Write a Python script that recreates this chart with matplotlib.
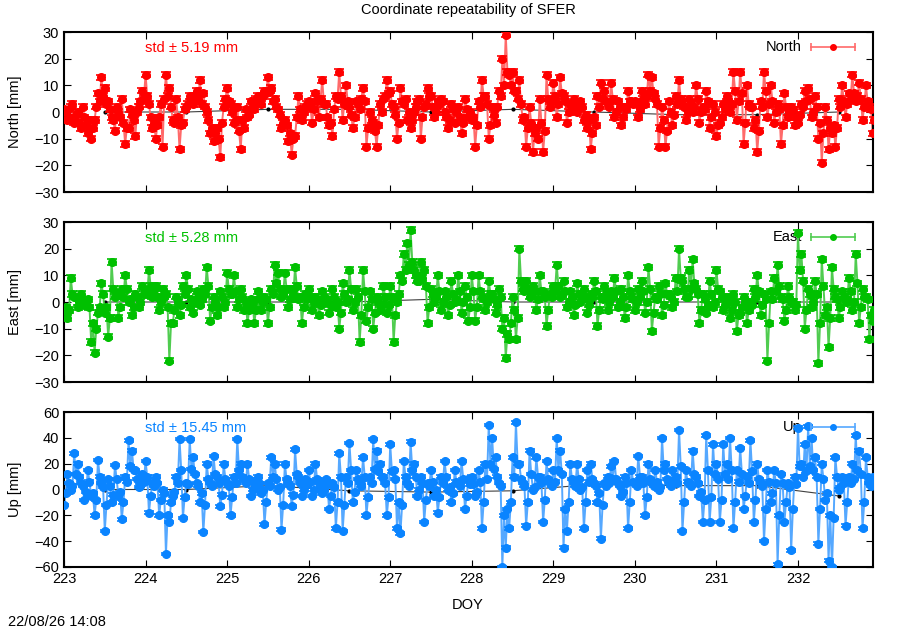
import numpy as np
import matplotlib
matplotlib.use("Agg")
import matplotlib.pyplot as plt

# data (samples, mm) -------------------------------------------------------------
# hourly points, plus the points in between (half hour later) that fill the band

doy_start = 223.0
step = 1.0 / 24.0

north = [
    1, -3, 2, -4, 0, -6, -2, -8, -10, -3, 7, 13, 9, 4, -2, -7, 0, 5, -12, -6, -1, -9, 2, 8,
    14, 3, -6, -10, -2, -13, 14, 9, -3, 5, -14, -4, 2, 6, 3, 8, 12, 7, 0, -8, -11, -6, -17, 2,
    9, 3, -4, 2, -14, -6, -2, 4, 1, 6, 3, 8, 13, 9, 5, 1, -6, -3, -11, -16, -9, 6, -3, 2,
    4, -4, 7, -2, 12, 3, -5, -9, 6, 15, -3, 10, 2, -6, 4, 1, 9, -13, 0, -4, -13, 3, 5, 12,
    8, 2, -10, 9, 3, -3, -6, 0, 4, -10, 2, 9, 6, -2, 4, 5, 0, -6, 3, -4, 2, -8, 5, -2,
    -3, -13, 4, 12, 6, -10, 2, -4, 8, 20, 29, 14, 15, 8, 12, -3, -13, 2, -15, -6, 5, -15, 14, 2,
    11, -2, 13, 6, -4, 3, 5, 0, 4, -3, -6, -14, -2, 6, 11, 8, 3, 11, -2, 4, -5, 2, 8, 4,
    4, -2, 8, 3, 14, 13, 5, -13, 2, -13, 4, -5, 6, 12, 3, -3, 5, 0, 10, -4, 2, 8, -6, 3,
    -9, -4, 3, 6, 0, 15, -3, 15, -12, 10, 2, -6, -15, 4, 15, -2, 10, -4, 3, -12, 7, -2, 2, -5,
    -4, 3, 8, 9, -2, 6, -10, -19, 2, -14, -8, -13, 5, 10, -2, 7, 14, 4, 11, -3, 10, 2, -8,
]
north_half = [
    0, -2, 3, -1, -4, 2, -5, -3, -6, 2, 4, 6, 3, 1, -3, 2, -2, -4, -6, 1, -3, 0, 4, 5,
    6, -2, -4, -5, 3, 5, 6, 2, -4, -2, -5, 1, 3, 4, 6, 5, 3, 2, -3, -6, -8, -10, -4, 5,
    4, 0, -3, -7, -3, 1, -1, 3, 5, 4, 6, 7, 8, 4, 2, -1, -4, -5, -8, -10, -2, 1, 0, 3,
    2, 1, 4, 5, 3, -2, -4, 1, 5, 6, 3, 4, -1, -2, 3, 5, 4, -6, -3, -7, -5, 0, 6, 7,
    3, -1, -4, 4, 5, 0, -3, 2, 5, -2, 3, 6, 2, 0, 3, 4, -2, -3, 1, 0, -2, -4, 1, 0,
    -2, -5, 2, 6, 3, -5, -1, 2, 6, 10, 15, 10, 8, 5, 3, -2, -6, -4, -8, -10, -4, -7, 5, 4,
    6, 3, 7, 4, 0, 1, 3, 2, 2, -1, -3, -8, -5, 2, 5, 4, 2, 5, 0, 2, -2, 1, 4, 3,
    3, 1, 5, 6, 8, 7, 3, -6, -3, -7, 0, -1, 3, 5, 2, 0, 3, 2, 5, 0, 1, 4, -2, 0,
    -5, -2, 1, 4, 3, 8, 4, 7, -4, 3, 2, -3, -7, 2, 8, 3, 4, 0, 1, -5, 2, 0, 1, -2,
    -1, 2, 4, 5, 0, 2, -4, -8, -3, -6, -5, -6, 2, 4, 3, 5, 7, 6, 5, 2, 4, 1, -3,
]

east = [
    -3, -6, 9, 2, -2, 3, -1, 1, -15, -19, -4, 7, -4, -13, 15, 2, -6, 5, 10, 0, -5, 3, -2, 6,
    4, 12, 2, 6, -3, 5, 3, -22, -8, 2, -5, 6, 10, -2, -4, 4, -1, 5, 13, -7, 2, -5, 4, -2,
    11, 3, 10, -2, 5, -3, -8, 1, -8, 4, -3, 2, -8, 5, 14, 11, 2, 11, -2, 5, 13, 1, -8, 3,
    5, -3, 2, -5, 4, 0, -4, 5, -2, -10, 7, 0, 12, -3, 5, -15, 12, -7, 4, -10, 2, -3, 6, -4,
    6, -15, 0, 10, 18, 22, 27, 12, 8, 15, 12, -8, 5, 0, 10, -3, 4, -5, 8, 0, 10, -4, 6, -7,
    10, -7, 10, 2, -3, 8, 3, -4, 5, -10, -21, -14, 2, -14, 20, 5, 8, 2, 6, -3, 10, 4, -9, 3,
    6, 14, 2, 8, -2, 4, -5, 7, 0, 5, -4, 3, 8, -9, 2, 6, -3, 4, 9, -2, 5, -6, 10, 2,
    -3, 5, 8, -4, 13, -11, 2, 6, -5, 7, 3, -2, 9, 20, 8, 2, 12, 16, 5, -8, 3, -4, 8, -2,
    12, 4, -3, 2, -6, 3, -11, -4, 2, -8, 0, 5, 10, -5, 3, -22, 4, 9, 14, 2, -7, 6, 0, -3,
    26, 18, -10, 5, -2, 8, -23, 16, -5, -17, 13, 2, -6, 4, 0, 9, -3, 18, -8, 5, 2, -14, -7,
]
east_half = [
    -2, -3, 3, 2, 0, 1, 0, -2, -8, -10, -2, 3, -2, -6, 5, 3, -2, 2, 5, 1, -2, 2, 0, 3,
    3, 6, 3, 2, 0, 2, -2, -8, -3, 0, -1, 3, 5, 1, 0, 2, 1, 3, 6, -2, 0, -2, 2, 0,
    5, 3, 4, 1, 2, 0, -3, 0, -3, 1, 0, 1, -2, 3, 7, 5, 3, 5, 1, 3, 6, 2, -2, 1,
    2, 0, 1, -1, 2, 1, -1, 2, 0, -4, 3, 1, 5, 0, 2, -5, 4, -2, 1, -4, 0, -1, 2, -1,
    2, -5, 3, 8, 12, 14, 15, 10, 8, 9, 6, -2, 3, 2, 4, 0, 2, -1, 3, 1, 4, 0, 2, -2,
    4, -2, 4, 1, 0, 3, 1, -1, 2, -6, -12, -8, -3, -6, 8, 4, 5, 3, 4, 1, 4, 2, -3, 2,
    4, 6, 3, 4, 0, 2, -1, 3, 1, 2, -1, 2, 4, -3, 1, 3, 0, 2, 4, 0, 2, -2, 4, 1,
    0, 2, 4, 0, 5, -4, 1, 3, -1, 3, 2, 0, 4, 9, 5, 2, 5, 7, 3, -3, 1, -1, 3, 0,
    5, 2, -1, 0, -3, 0, -5, -2, 0, -3, -1, 2, 4, -1, 1, -8, 1, 4, 6, 1, -3, 2, 0, -1,
    12, 8, -3, 3, 0, 3, -8, 6, -2, -6, 5, 1, -2, 2, 1, 4, 0, 7, -2, 2, 1, -5, -3,
]

up = [
    -12, 12, 0, 28, 20, 5, -8, 15, -5, -20, 23, 5, -32, 8, -10, 19, -5, -23, 10, 38, 30, 15, 2, 12,
    22, -18, 5, 10, -20, 0, -50, -25, -5, 10, 39, -22, 5, 39, 25, 5, -10, -33, 20, 5, 26, 10, -13, 20,
    5, -20, 10, 39, 20, 8, 20, -5, 5, 10, -3, -27, 5, 25, 20, 0, -31, 20, 5, -13, 31, 10, -5, 8,
    15, -5, 20, 5, -3, 8, -15, 5, -30, 28, -32, 10, 36, -10, 15, 5, 25, -20, 10, 39, 30, 20, 10, -20,
    35, 15, -30, -34, 22, 5, 37, 20, -5, 10, -25, 5, 15, -5, -18, 10, 22, 0, -10, 15, 5, 22, -15, 8,
    10, -5, 15, -30, 20, 50, 40, 25, 5, -60, -45, -30, 25, 52, 20, 5, -28, 30, 0, 25, 10, -25, 22, 5,
    15, 40, 30, -45, -32, 20, 5, 20, 0, -30, 15, 20, 5, -10, -38, 5, 10, 18, 22, 5, -5, 10, -30, 15,
    5, 26, 10, -20, 20, 5, 15, 0, 40, 20, 5, 15, 10, 46, -32, 15, 5, 30, 10, -5, -25, 42, -25, 35,
    20, -25, 35, 20, 40, -30, 15, 32, -15, 10, 38, -25, 20, 5, -40, 15, -10, 15, -58, 12, -25, 5, -47, 10,
    48, 20, 35, 49, 40, 25, -42, 20, -8, -55, -60, 25, 0, 10, -28, 10, 20, 42, 30, -30, 25, 5, 10,
]
up_half = [
    -3, 5, 3, 12, 10, 3, -2, 6, -3, -8, 10, 2, -12, 3, -4, 8, -2, -10, 6, 18, 15, 8, 3, 6,
    10, -5, 3, 5, -8, -3, -20, -10, -2, 5, 15, -6, 4, 16, 12, 3, -3, -12, 8, 3, 12, 5, -4, 8,
    3, -6, 5, 15, 10, 5, 8, 0, 3, 5, 0, -10, 3, 10, 8, 2, -12, 8, 3, -4, 12, 5, 0, 4,
    6, 0, 8, 3, 0, 4, -5, 2, -10, 10, -12, 5, 15, -2, 8, 3, 10, -6, 5, 16, 14, 10, 5, -6,
    14, 8, -10, -12, 10, 3, 15, 10, 0, 5, -8, 3, 6, 0, -6, 5, 10, 2, -3, 6, 3, 8, -5, 4,
    4, -2, 6, -10, 8, 20, 16, 10, 3, -20, -15, -10, 10, 20, 8, 3, -10, 12, 2, 10, 5, -8, 8, 3,
    6, 15, 12, -15, -10, 8, 3, 8, 2, -10, 6, 8, 3, -3, -12, 3, 5, 8, 8, 3, -2, 5, -10, 6,
    3, 10, 5, -6, 8, 3, 6, 2, 15, 8, 3, 6, 5, 18, -10, 6, 3, 12, 5, -2, -8, 15, -6, 12,
    8, -8, 12, 8, 15, -10, 6, 12, -5, 5, 14, -8, 8, 3, -15, 6, -3, 5, -20, 5, -10, 2, -15, 4,
    18, 10, 14, 18, 15, 10, -15, 8, -3, -20, -22, 10, 2, 5, -10, 5, 8, 15, 12, -10, 10, 3, 5,
]

sigma = 1.0   # formal error of each solution, mm

daily_doy = [223.5, 224.5, 225.5, 226.5, 227.5, 228.5, 229.5, 230.5, 231.5, 232.5]
daily_north = [0, 0, 1, 1, 0, 1, 0, -1, -1, 0]
daily_east = [0, 0, 0, 0, 1, 0, 0, 0, 0, 0]
daily_up = [0, 0, 3, -1, -2, -1, 4, 3, 3, -5]

std_text = ["std \u00b1 5.19 mm", "std \u00b1 5.28 mm", "std \u00b1 15.45 mm"]
names = ["North", "East", "Up"]
colors = ["#ff0000", "#00c000", "#0a84ff"]
light = ["#ff6a6a", "#50cc50", "#55a8ff"]
ylims = [(-30, 30), (-30, 30), (-60, 60)]
ysteps = [10, 10, 20]

# plot ---------------------------------------------------------------------------

plt.rcParams['font.family'] = ['Liberation Sans', 'DejaVu Sans']
fs = 10.5

fig = plt.figure(figsize=(9, 6.3), dpi=100)
left, width = 64 / 900, (873 - 64) / 900
tops = [32, 222, 412]
bottoms = [192, 382, 567]

series = [(north, north_half), (east, east_half), (up, up_half)]
dailies = [daily_north, daily_east, daily_up]

for k in range(3):
    full, half = series[k]
    t1 = doy_start + np.arange(len(full)) * step
    t2 = doy_start + step / 2 + np.arange(len(half)) * step
    doy = np.concatenate([t1, t2])
    y = np.concatenate([np.array(full, float), np.array(half, float)])
    order = np.argsort(doy)
    doy, y = doy[order], y[order]

    b = 1 - bottoms[k] / 630
    h = (bottoms[k] - tops[k]) / 630
    ax = fig.add_axes([left, b, width, h])

    ax.plot(daily_doy, dailies[k], color='#404040', lw=0.8, zorder=1)
    ax.plot(daily_doy, dailies[k], 'o', color='black', ms=2, zorder=1)

    ax.plot(doy, y, '-', color=light[k], lw=1.4, zorder=2)
    ax.errorbar(doy, y, yerr=sigma, fmt='o', color=colors[k], ms=5.5,
                ecolor=colors[k], elinewidth=1.0, capsize=3.4, capthick=1.2,
                mec=colors[k], zorder=3)

    ax.set_xlim(223, 232.92)
    ax.set_ylim(*ylims[k])
    ax.set_yticks(np.arange(ylims[k][0], ylims[k][1] + 1, ysteps[k]))
    ax.set_xticks(np.arange(223, 233))
    ax.tick_params(direction='in', top=True, right=True, length=5, width=0.8,
                   labelsize=fs)
    if k < 2:
        ax.tick_params(labelbottom=False)
    for sp in ax.spines.values():
        sp.set_linewidth(1.5)

    ax.text(0.1, 0.9, std_text[k], transform=ax.transAxes, color=colors[k],
            fontsize=fs, va='center', ha='left', zorder=1)

    # gnuplot style key: label + errorbar sample
    ax.text(0.912, 0.905, names[k], transform=ax.transAxes, fontsize=fs,
            va='center', ha='right', zorder=1)
    ax.plot([0.923, 0.978], [0.905, 0.905], color=light[k], lw=1.2,
            transform=ax.transAxes, zorder=4, clip_on=False)
    ax.plot([0.923, 0.978], [0.905, 0.905], '|', color=light[k], ms=6,
            mew=1.2, transform=ax.transAxes, zorder=4, clip_on=False)
    ax.plot([0.951], [0.905], 'o', color=colors[k], ms=4,
            transform=ax.transAxes, zorder=4, clip_on=False)

    fig.text(15 / 900, b + h / 2, names[k] + " [mm]", rotation=90,
             ha='center', va='center', fontsize=fs)

fig.text(468 / 900, 1 - 10 / 630, "Coordinate repeatability of SFER",
         ha='center', va='center', fontsize=fs)
fig.text(468 / 900, 1 - 605 / 630, "DOY", ha='center', va='center', fontsize=fs)
fig.text(8 / 900, 1 - 622 / 630, "22/08/26 14:08", ha='left', va='center',
         fontsize=fs)

fig.savefig("out.png", dpi=100)
